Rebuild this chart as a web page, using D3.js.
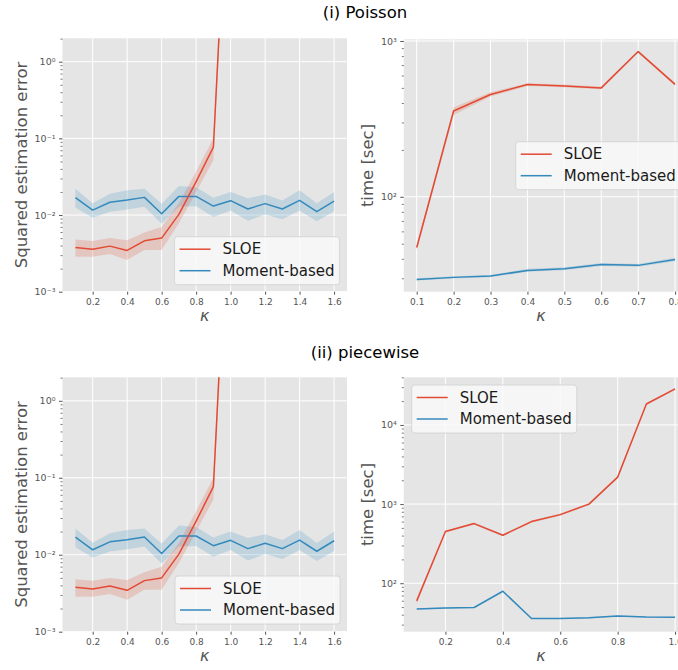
<!DOCTYPE html>
<html>
<head>
<meta charset="utf-8">
<script src="https://cdn.jsdelivr.net/npm/d3@7"></script>
<style>
  body { margin: 0; background: #fff; }
  svg { display: block; font-family: "DejaVu Sans", sans-serif; }
</style>
</head>
<body>
<svg id="chart"></svg>
<script>
// Data

// squared estimation error (same runs shown in (i) and (ii))
const kappaErr = [0.1, 0.2, 0.3, 0.4, 0.5, 0.6, 0.7, 0.8, 0.9, 1.0, 1.1, 1.2, 1.3, 1.4, 1.5, 1.6];
const sloeErr      = [0.00378, 0.00359, 0.00393, 0.00345, 0.00461, 0.0050, 0.0102, 0.0273, 0.0767, 2100];
const sloeErrLow   = [0.00285, 0.00285, 0.0031, 0.0026, 0.0035, 0.0035, 0.0078, 0.020, 0.052, 1500];
const sloeErrHigh  = [0.0048, 0.0046, 0.0050, 0.0047, 0.0059, 0.0070, 0.0142, 0.037, 0.100, 3000];
const momentErr     = [0.0169, 0.0116, 0.0147, 0.0157, 0.0170, 0.0104, 0.0175, 0.0175, 0.0131, 0.0154, 0.0120, 0.0141, 0.0120, 0.0155, 0.0111, 0.0152];
const momentErrLow  = [0.0125, 0.0092, 0.0110, 0.0118, 0.0128, 0.0077, 0.0128, 0.0130, 0.0094, 0.0115, 0.0084, 0.0102, 0.0088, 0.0115, 0.0083, 0.0112];
const momentErrHigh = [0.022, 0.0143, 0.019, 0.021, 0.022, 0.014, 0.024, 0.023, 0.0168, 0.020, 0.0165, 0.0185, 0.0155, 0.021, 0.0142, 0.020];

// (i) Poisson: run time
const kappaPoisson = [0.1, 0.2, 0.3, 0.4, 0.5, 0.6, 0.7, 0.8];
const sloeTimePoisson     = [47.3, 355, 453, 525, 515, 500, 855, 527];
const sloeTimePoissonLow  = [45, 335, 440, 515, 505, 490, 840, 515];
const sloeTimePoissonHigh = [49.5, 375, 468, 535, 525, 510, 870, 540];
const momentTimePoisson     = [29.5, 30.4, 31.0, 33.7, 34.5, 36.8, 36.3, 39.6];
const momentTimePoissonLow  = [29.0, 29.9, 30.5, 33.0, 33.8, 36.0, 35.6, 38.6];
const momentTimePoissonHigh = [30.0, 30.9, 31.5, 34.5, 35.3, 37.6, 37.0, 40.6];

// (ii) piecewise: run time
const kappaPiecewise = [0.1, 0.2, 0.3, 0.4, 0.5, 0.6, 0.7, 0.8, 0.9, 1.0];
const sloeTimePiecewise     = [59.8, 450, 567, 404, 601, 736, 1000, 2190, 18400, 28500];
const sloeTimePiecewiseLow  = [55, 437, 550, 392, 583, 714, 970, 2125, 17850, 27650];
const sloeTimePiecewiseHigh = [64, 463, 584, 416, 619, 758, 1030, 2255, 18950, 29350];
const momentTimePiecewise     = [47.4, 48.8, 49.3, 79.2, 35.8, 35.8, 36.5, 38.6, 37.4, 37.1];
const momentTimePiecewiseLow  = [46.6, 48.0, 48.5, 78.0, 35.2, 35.2, 35.9, 37.9, 36.8, 36.5];
const momentTimePiecewiseHigh = [48.2, 49.6, 50.1, 80.4, 36.4, 36.4, 37.1, 39.3, 38.0, 37.7];

const seriesNames = ["SLOE", "Moment-based"];
const titles = ["(i) Poisson", "(ii) piecewise"];

// Layout
const width = 678;
const height = 670;
const red = "#E24A33";
const blue = "#348ABD";
const tickColor = "#555555";
const sup = {"-": "\u207B", "0": "\u2070", "1": "\u00B9", "2": "\u00B2", "3": "\u00B3", "4": "\u2074"};

const svg = d3.select("#chart")
    .attr("width", width)
    .attr("height", height)
    .attr("viewBox", [0, 0, width, height]);

// panel titles
svg.selectAll("text.title")
  .data(titles)
  .join("text")
    .attr("class", "title")
    .attr("x", 365)
    .attr("y", (d, i) => i === 0 ? 18 : 358)
    .attr("text-anchor", "middle")
    .attr("font-size", 16.5)
    .attr("fill", "#000")
    .text(d => d);

function series(kappa, v, lo, hi) {
    return v.map((d, i) => ({k: kappa[i], v: d, lo: lo[i], hi: hi[i]}));
}

let clipId = 0;

function drawPanel(p) {
    const x = d3.scaleLinear().domain(p.xDomain).range([p.left, p.right]);
    const y = d3.scaleLog().domain(p.yDomain).range([p.bottom, p.top]);
    const g = svg.append("g");

    // clip so that the panel can run off the page like the reference
    const id = "clip" + (clipId++);
    g.append("clipPath").attr("id", id)
      .append("rect")
        .attr("x", p.left).attr("y", p.top)
        .attr("width", p.right - p.left).attr("height", p.bottom - p.top);

    g.append("rect")
        .attr("x", p.left).attr("y", p.top)
        .attr("width", p.right - p.left).attr("height", p.bottom - p.top)
        .attr("fill", "#E5E5E5");

    // grid
    const [e0, e1] = p.yDomain.map(d => Math.log10(d));
    const majors = d3.range(Math.ceil(e0), Math.floor(e1) + 1).map(e => Math.pow(10, e));
    const minors = [];
    for (let e = Math.floor(e0); e <= Math.ceil(e1); e++) {
        for (let m = 2; m <= 9; m++) {
            const v = m * Math.pow(10, e);
            if (v >= p.yDomain[0] && v <= p.yDomain[1]) minors.push(v);
        }
    }

    g.append("g")
        .attr("stroke", "#fff")
        .attr("stroke-width", 1)
      .selectAll("line.gx")
      .data(p.xTicks)
      .join("line")
        .attr("x1", d => x(d)).attr("x2", d => x(d))
        .attr("y1", p.top).attr("y2", p.bottom);

    g.append("g")
        .attr("stroke", "#fff")
        .attr("stroke-width", 1)
      .selectAll("line.gy")
      .data(majors)
      .join("line")
        .attr("x1", p.left).attr("x2", p.right)
        .attr("y1", d => y(d)).attr("y2", d => y(d));

    // bands and lines
    const area = d3.area()
        .x(d => x(d.k))
        .y0(d => y(d.lo))
        .y1(d => y(d.hi));
    const line = d3.line()
        .x(d => x(d.k))
        .y(d => y(d.v));

    const plot = g.append("g").attr("clip-path", `url(#${id})`);
    const lines = [
        {data: p.moment, color: blue},
        {data: p.sloe, color: red}
    ];
    plot.selectAll("path.band")
      .data(lines)
      .join("path")
        .attr("fill", d => d.color)
        .attr("fill-opacity", 0.2)
        .attr("d", d => area(d.data));
    plot.selectAll("path.line")
      .data(lines)
      .join("path")
        .attr("fill", "none")
        .attr("stroke", d => d.color)
        .attr("stroke-width", 1.5)
        .attr("stroke-linejoin", "round")
        .attr("d", d => line(d.data));

    // x axis
    g.append("g")
        .attr("transform", `translate(0,${p.bottom})`)
        .call(d3.axisBottom(x).tickValues(p.xTicks).tickSize(3).tickPadding(3.5)
            .tickFormat(d3.format(".1f")))
        .call(a => a.select(".domain").remove())
        .call(a => a.selectAll(".tick line").attr("stroke", tickColor))
        .call(a => a.selectAll(".tick text")
            .attr("fill", tickColor)
            .attr("font-size", 9)
            .attr("font-family", "DejaVu Sans"));

    // y axis, major ticks as powers of ten
    g.append("g")
        .attr("transform", `translate(${p.left},0)`)
        .call(d3.axisLeft(y).tickValues(majors).tickSize(3.5).tickPadding(3.5)
            .tickFormat(d => "10" + String(Math.round(Math.log10(d))).split("").map(c => sup[c]).join("")))
        .call(a => a.select(".domain").remove())
        .call(a => a.selectAll(".tick line").attr("stroke", tickColor))
        .call(a => a.selectAll(".tick text")
            .attr("fill", tickColor)
            .attr("font-size", 9.5)
            .attr("font-family", "DejaVu Sans"));

    // y axis, minor ticks
    g.append("g")
        .attr("transform", `translate(${p.left},0)`)
        .call(d3.axisLeft(y).tickValues(minors).tickSize(2).tickFormat(""))
        .call(a => a.select(".domain").remove())
        .call(a => a.selectAll(".tick line").attr("stroke", tickColor).attr("stroke-width", 0.8));

    // axis labels
    g.append("text")
        .attr("x", (p.left + Math.min(p.right, width)) / 2 + p.kappaShift)
        .attr("y", p.bottom + 29)
        .attr("text-anchor", "middle")
        .attr("font-size", 16)
        .attr("font-style", "italic")
        .attr("fill", tickColor)
        .text("\u03BA");

    g.append("text")
        .attr("transform", `translate(${p.yLabelX},${(p.top + p.bottom) / 2}) rotate(-90)`)
        .attr("text-anchor", "middle")
        .attr("font-size", 16.5)
        .attr("fill", tickColor)
        .text(p.yLabel);

    // legend
    const lg = g.append("g").attr("transform", `translate(${p.legend[0]},${p.legend[1]})`);
    const box = lg.append("rect")
        .attr("rx", 3)
        .attr("fill", "#f9f9f9")
        .attr("fill-opacity", 0.85)
        .attr("stroke", "#d0d0d0")
        .attr("stroke-width", 0.8);
    const rows = lg.selectAll("g.row")
      .data([{name: seriesNames[0], color: red}, {name: seriesNames[1], color: blue}])
      .join("g")
        .attr("transform", (d, i) => `translate(0,${12.5 + i * 21.5})`);
    rows.append("line")
        .attr("x1", 5).attr("x2", 36)
        .attr("stroke", d => d.color)
        .attr("stroke-width", 1.5);
    rows.append("text")
        .attr("x", 48)
        .attr("dy", "0.35em")
        .attr("font-size", 15)
        .attr("fill", "#1a1a1a")
        .text(d => d.name);
    const bw = d3.max(rows.selectAll("text").nodes(), n => n.getComputedTextLength()) + 48 + 5;
    box.attr("width", bw).attr("height", 48);
}

const errSloe = series(kappaErr, sloeErr, sloeErrLow, sloeErrHigh);
const errMoment = series(kappaErr, momentErr, momentErrLow, momentErrHigh);
const errTicks = [0.2, 0.4, 0.6, 0.8, 1.0, 1.2, 1.4, 1.6];

drawPanel({
    left: 62.5, right: 347, top: 38.3, bottom: 291.7,
    xDomain: [0.025, 1.675], yDomain: [1e-3, 2.02], xTicks: errTicks,
    sloe: errSloe, moment: errMoment,
    yLabel: "Squared estimation error", yLabelX: 27, kappaShift: 0,
    legend: [174.5, 236.7]
});

drawPanel({
    left: 403.8, right: 688, top: 39.3, bottom: 291.7,
    xDomain: [0.065, 0.835], yDomain: [24.6, 1025], xTicks: kappaPoisson,
    sloe: series(kappaPoisson, sloeTimePoisson, sloeTimePoissonLow, sloeTimePoissonHigh),
    moment: series(kappaPoisson, momentTimePoisson, momentTimePoissonLow, momentTimePoissonHigh),
    yLabel: "time [sec]", yLabelX: 373, kappaShift: 0,
    legend: [515.7, 141.7]
});

drawPanel({
    left: 62.5, right: 347, top: 377.3, bottom: 631.7,
    xDomain: [0.025, 1.675], yDomain: [1e-3, 2.02], xTicks: errTicks,
    sloe: errSloe, moment: errMoment,
    yLabel: "Squared estimation error", yLabelX: 27, kappaShift: 0,
    legend: [175, 576]
});

drawPanel({
    left: 403.8, right: 688, top: 377.3, bottom: 631.7,
    xDomain: [0.055, 1.045], yDomain: [24.4, 40000], xTicks: [0.2, 0.4, 0.6, 0.8, 1.0],
    sloe: series(kappaPiecewise, sloeTimePiecewise, sloeTimePiecewiseLow, sloeTimePiecewiseHigh),
    moment: series(kappaPiecewise, momentTimePiecewise, momentTimePiecewiseLow, momentTimePiecewiseHigh),
    yLabel: "time [sec]", yLabelX: 373, kappaShift: 0,
    legend: [411.7, 385]
});
</script>
</body>
</html>
